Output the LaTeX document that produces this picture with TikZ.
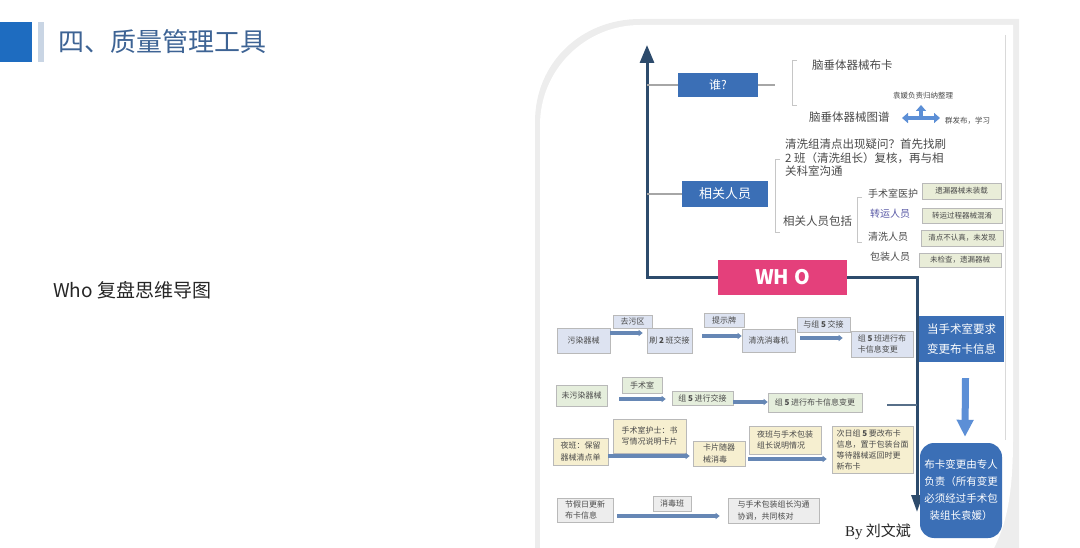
\documentclass[tikz,border=0pt]{standalone}
\usepackage{fontspec}
\setmainfont{Noto Sans CJK SC}
\newfontfamily\byfont{Liberation Serif}
\usetikzlibrary{arrows.meta,positioning,calc}
\definecolor{titleblue}{HTML}{3D6394}
\definecolor{squareblue}{HTML}{1E6CC0}
\definecolor{barblue}{HTML}{C9D5E4}
\definecolor{nodeblue}{HTML}{3B6FB6}
\definecolor{axisnavy}{HTML}{2D4B6C}
\definecolor{whopink}{HTML}{E4407B}
\definecolor{arrblue}{HTML}{6687B5}
\definecolor{lightarr}{HTML}{5C8FD6}
\definecolor{txtgray}{HTML}{4A4A4A}
\definecolor{lavfill}{HTML}{DDE3F1}
\definecolor{grnfill}{HTML}{E5EEDC}
\definecolor{yelfill}{HTML}{F6EFD0}
\definecolor{gryfill}{HTML}{EDEDED}
\definecolor{tagfill}{HTML}{E9EDD8}
\tikzset{
  hubbox/.style={fill=nodeblue, text=white, inner sep=0pt, align=center},
  tagbox/.style={draw=gray!55, fill=tagfill, inner sep=0pt, line width=0.6pt,
                 font=\fontsize{7.5}{9}\selectfont, text=txtgray},
  flowbox/.style={draw=gray!55, inner sep=2pt, align=left, line width=0.6pt,
                  font=\fontsize{8}{11.5}\selectfont, text=txtgray},
  flowarr/.style={-{Triangle[length=4pt,width=6pt]}, draw=arrblue, line width=3.2pt},
  maplab/.style={font=\fontsize{11.5}{14}\selectfont, text=txtgray, inner sep=0pt, anchor=west},
  smalllab/.style={font=\fontsize{7.5}{9}\selectfont, text=txtgray, inner sep=0pt, anchor=west},
  branch/.style={draw=gray!70, line width=1.2pt},
  brack/.style={draw=gray!45, line width=0.7pt},
  mainaxis/.style={draw=axisnavy, line width=3pt},
}

\begin{document}
\begin{tikzpicture}[x=1pt,y=-1pt]
\useasboundingbox (0,0) rectangle (1080,548);
% page heading
\fill[squareblue] (0,22) rectangle (32,62);
\fill[barblue] (38,22) rectangle (44,62);
\node[anchor=west, inner sep=0pt, text=titleblue, font=\fontsize{26}{28}\selectfont] (title) at (58,42) {四、质量管理工具};
\node[anchor=west, inner sep=0pt, text=black!85, font=\fontsize{19}{21}\selectfont] (sub) at (53,290) {Who 复盘思维导图};

% picture panel
\fill[gray!14] (535,548) -- (535,122) .. controls (535,62) and (582,19) .. (640,19) -- (1019,19) -- (1019,548) -- cycle;
\fill[white] (540,548) -- (540,125) .. controls (540,70) and (585,25) .. (640,25) -- (1013,25) -- (1013,440) .. controls (1013,495) and (1006,525) .. (994,548) -- cycle;
\draw[gray!30, line width=0.8pt] (1005,35) -- (1005,440);

% mind map
\coordinate (axtop) at (647,45);
\coordinate (rdown) at (917,512);
\node[hubbox, minimum width=80pt, minimum height=24pt, font=\fontsize{12}{14}\selectfont] (shui) at (718,85) {谁?};
\node[hubbox, minimum width=86pt, minimum height=26pt, font=\fontsize{13}{15}\selectfont] (xgry) at (725,194) {相关人员};
\node[fill=whopink, text=white, inner sep=0pt, minimum width=129pt, minimum height=35pt,
      font=\fontsize{20}{22}\selectfont\bfseries] (who) at (782.5,277.5) {WH O};
\draw[mainaxis, -{Triangle[length=18pt,width=14pt]}] (who.west) -- (who.west -| axtop) -- (axtop);
\draw[mainaxis, -{Triangle[length=17pt,width=11pt]}] (who.east) -- (who.east -| rdown) -- (rdown);
\draw[branch] (shui.west -| axtop) -- (shui.west);
\draw[branch] (shui.east) -- ++(17,0);
\draw[branch] (xgry.west -| axtop) -- (xgry.west);

\draw[brack] (797,60) -- (792,60) -- (792,105) -- (797,105);
\node[maplab] (card) at (812,65) {脑垂体器械布卡};
\node[maplab] (atlas) at (809,117) {脑垂体器械图谱};
\node[smalllab] (sort) at (893,96) {袁媛负责归纳整理};
\node[smalllab] (pub) at (945,121) {群发布，学习};
\draw[lightarr, line width=4pt, {Triangle[length=6pt,width=10pt]}-{Triangle[length=6pt,width=10pt]}] (902,118) -- (940,118);
\draw[lightarr, line width=4pt, -{Triangle[length=6pt,width=10pt]}] (921,118) -- (921,105);

\draw[brack] (780,159) -- (775,159) -- (775,232) -- (780,232);
\node[maplab, anchor=north west, align=left, font=\fontsize{11.5}{13.5}\selectfont] (doubt) at (785,139)
  {清洗组清点出现疑问？首先找刷\\2 班（清洗组长）复核，再与相\\关科室沟通};
\node[maplab] (incl) at (783,221) {相关人员包括};
\draw[brack] (862,197) -- (857,197) -- (857,242) -- (862,242);
\node[maplab, font=\fontsize{10}{12}\selectfont] (p1) at (868,194) {手术室医护};
\node[maplab, font=\fontsize{10}{12}\selectfont, text=blue!30!gray] (p2) at (870,214) {转运人员};
\node[maplab, font=\fontsize{10}{12}\selectfont] (p3) at (868,237) {清洗人员};
\node[maplab, font=\fontsize{10}{12}\selectfont] (p4) at (870,257) {包装人员};
\node[tagbox, minimum width=79pt, minimum height=16pt] (t1) at (961.5,191) {遗漏器械未装载};
\node[tagbox, minimum width=80pt, minimum height=15pt] (t2) at (962,215.5) {转运过程器械混淆};
\node[tagbox, minimum width=82pt, minimum height=16pt] (t3) at (962,238) {清点不认真，未发现};
\node[tagbox, minimum width=82pt, minimum height=14pt] (t4) at (960,260) {未检查，遗漏器械};

% right column
\node[hubbox, minimum width=85pt, minimum height=46pt, font=\fontsize{11.5}{20}\selectfont] (req) at (961.5,339) {当手术室要求\\变更布卡信息};
\node[hubbox, rounded corners=14pt, minimum width=82pt, minimum height=95pt,
      font=\fontsize{10.5}{17}\selectfont] (duty) at (961,490.5) {布卡变更由专人\\负责（所有变更\\必须经过手术包\\装组长袁媛）};
\draw[lightarr, line width=7pt, -{Triangle[length=17pt,width=16pt]}] ([xshift=4pt,yshift=-16pt]req.south) -- ([xshift=4pt,yshift=6pt]duty.north);

% row 1
\node[flowbox, fill=lavfill, minimum width=53pt, minimum height=25pt] (r1a) at (583.5,340.5) {污染器械};
\node[flowbox, fill=lavfill, minimum width=39pt, minimum height=13pt, inner sep=0pt] (r1la) at (632.5,321.5) {去污区};
\node[flowbox, fill=lavfill, minimum width=45pt, minimum height=25pt] (r1b) at (669.5,340.5) {刷 \textbf{2} 班交接};
\node[flowbox, fill=lavfill, minimum width=40pt, minimum height=14pt, inner sep=0pt] (r1lb) at (724,320) {提示牌};
\node[flowbox, fill=lavfill, minimum width=53pt, minimum height=23pt] (r1c) at (768.5,340.5) {清洗消毒机};
\node[flowbox, fill=lavfill, minimum width=53pt, minimum height=15pt, inner sep=0pt] (r1lc) at (823.5,324.5) {与组 \textbf{5} 交接};
\node[flowbox, fill=lavfill, minimum width=62pt, minimum height=26pt, inner sep=1pt] (r1d) at (882,344) {组 \textbf{5} 班进行布\\卡信息变更};
\draw[flowarr] (r1a.east |- 0,333) -- ([xshift=-4pt]r1b.west |- 0,333);
\draw[flowarr] ([xshift=10pt]r1b.east |- 0,336) -- (r1c.west |- 0,336);
\draw[flowarr] ([xshift=5pt]r1c.east |- 0,338) -- ([xshift=-8pt]r1d.west |- 0,338);

% row 2
\node[flowbox, fill=grnfill, minimum width=51pt, minimum height=21pt] (r2a) at (581.5,395.5) {未污染器械};
\node[flowbox, fill=grnfill, minimum width=40pt, minimum height=16pt, inner sep=0pt] (r2la) at (642,385) {手术室};
\node[flowbox, fill=grnfill, minimum width=61pt, minimum height=14pt, inner sep=0pt] (r2b) at (702.5,398) {组 \textbf{5} 进行交接};
\node[flowbox, fill=grnfill, minimum width=94pt, minimum height=19pt, inner sep=0pt] (r2c) at (815,402.5) {组 \textbf{5} 进行布卡信息变更};
\draw[flowarr] ([xshift=12pt]r2a.east |- 0,399) -- ([xshift=-6pt]r2b.west |- 0,399);
\draw[flowarr] (r2b.east |- 0,402) -- (r2c.west |- 0,402);
\draw[draw=axisnavy!80, line width=1.5pt] ([xshift=25pt]r2c.east |- 0,405) -- (rdown |- 0,405);

% row 3
\node[flowbox, fill=yelfill, minimum width=55pt, minimum height=27pt] (r3a) at (580.5,451.5) {夜班：保留\\器械清点单};
\node[flowbox, fill=yelfill, minimum width=73pt, minimum height=34pt] (r3la) at (649.5,436) {手术室护士：书\\写情况说明卡片};
\node[flowbox, fill=yelfill, minimum width=52pt, minimum height=25pt] (r3b) at (719,453.5) {卡片随器\\械消毒};
\node[flowbox, fill=yelfill, minimum width=72pt, minimum height=28pt] (r3lb) at (785,440) {夜班与手术包装\\组长说明情况};
\node[flowbox, fill=yelfill, minimum width=81pt, minimum height=47pt, font=\fontsize{8}{11}\selectfont] (r3c) at (872.5,449.5)
  {次日组 \textbf{5} 要改布卡\\信息，置于包装台面\\等待器械返回时更\\新布卡};
\draw[flowarr] (r3a.east |- 0,456) -- ([xshift=-3pt]r3b.west |- 0,456);
\draw[flowarr] ([xshift=3pt]r3b.east |- 0,459) -- ([xshift=-5pt]r3c.west |- 0,459);

% row 4
\node[flowbox, fill=gryfill, minimum width=56pt, minimum height=24pt] (r4a) at (585,510) {节假日更新\\布卡信息};
\node[flowbox, fill=gryfill, minimum width=38pt, minimum height=15pt, inner sep=0pt] (r4la) at (672,503.5) {消毒班};
\node[flowbox, fill=gryfill, minimum width=91pt, minimum height=25pt] (r4b) at (773.5,510.5) {与手术包装组长沟通\\协调，共同核对};
\draw[flowarr] ([xshift=4pt]r4a.east |- 0,516) -- ([xshift=-8pt]r4b.west |- 0,516);

\node[inner sep=0pt, text=black!85, font=\fontsize{15}{17}\selectfont] (by) at (878,532) {{\byfont By} 刘文斌};
\end{tikzpicture}
\end{document}
